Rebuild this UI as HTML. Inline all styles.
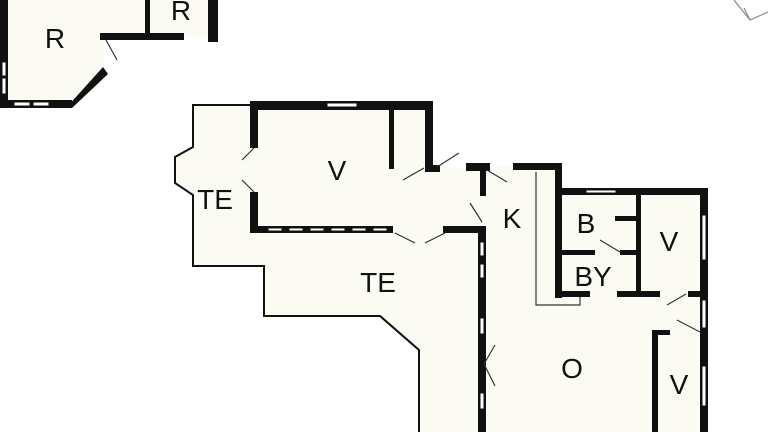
<!DOCTYPE html>
<html><head><meta charset="utf-8"><style>
html,body{margin:0;padding:0;background:#fff;}
svg{display:block}
text{font-family:"Liberation Sans",sans-serif;font-size:28px;fill:#111;text-anchor:middle}
</style></head><body>
<svg width="768" height="432" viewBox="0 0 768 432" xmlns="http://www.w3.org/2000/svg">
<polygon points="4,0 214,0 214,36 104,36 104,70 70,104 4,104" fill="#fbfbf4"/>
<polygon points="193,105 254,105 254,106 433,106 433,168 484,168 484,167 558,167 558,191 704,191 704,432 419,432 419,350 380,316 264,316 264,266 193,266 193,195 175,183 175,157 193,147" fill="#fbfbf4"/>
<polyline points="252,105 193,105 193,147 175,157 175,183 193,195 193,266 264,266 264,316 380,316 419,350 419,432" fill="none" stroke="#111" stroke-width="2"/>
<g fill="#111">
<rect x="0" y="0" width="8" height="108"/>
<rect x="0" y="100" width="72" height="8"/>
<polygon points="66,108 72,108 108,74 103,67"/>
<rect x="100" y="33" width="84" height="7"/>
<rect x="145" y="0" width="5" height="38"/>
<rect x="208" y="0" width="10" height="42"/>
<rect x="250" y="101" width="183" height="9"/>
<rect x="250" y="101" width="8" height="47"/>
<rect x="250" y="192" width="8" height="41"/>
<rect x="250" y="226" width="143" height="7"/>
<rect x="389" y="108" width="5" height="61"/>
<rect x="425" y="101" width="8" height="71"/>
<rect x="425" y="165" width="15" height="7"/>
<rect x="466" y="163" width="24" height="8"/>
<rect x="480" y="163" width="6" height="33"/>
<rect x="443" y="226" width="43" height="7"/>
<rect x="478" y="226" width="8" height="206"/>
<rect x="513" y="163" width="49" height="7"/>
<rect x="555" y="163" width="7" height="135"/>
<rect x="555" y="188" width="153" height="7"/>
<rect x="700" y="188" width="8" height="244"/>
<rect x="556" y="291" width="34" height="6"/>
<rect x="617" y="291" width="43" height="6"/>
<rect x="688" y="291" width="20" height="6"/>
<rect x="636" y="193" width="5" height="104"/>
<rect x="560" y="250" width="35" height="5"/>
<rect x="620" y="250" width="20" height="5"/>
<rect x="615" y="216" width="25" height="5"/>
<rect x="652" y="330" width="6" height="102"/>
<rect x="652" y="330" width="18" height="5"/>
</g>
<g fill="#fff" stroke="#111" stroke-width="1">
<rect x="14" y="102" width="16" height="4"/><rect x="33" y="102" width="16" height="4"/>
<rect x="2" y="62" width="4" height="14"/><rect x="2" y="78" width="4" height="16"/>
<rect x="327" y="103" width="30" height="4"/>
<rect x="268" y="228" width="14" height="3"/><rect x="289" y="228" width="14" height="3"/><rect x="310" y="228" width="14" height="3"/><rect x="331" y="228" width="14" height="3"/><rect x="352" y="228" width="14" height="3"/><rect x="373" y="228" width="14" height="3"/>
<rect x="480" y="242" width="4" height="14"/><rect x="480" y="264" width="4" height="14"/><rect x="480" y="318" width="4" height="16"/><rect x="480" y="393" width="4" height="16"/>
<rect x="586" y="190" width="30" height="3"/>
<rect x="702" y="215" width="4" height="45"/><rect x="702" y="300" width="4" height="28"/><rect x="702" y="366" width="4" height="40"/>
</g>
<g stroke="#333" stroke-width="1.2" fill="none">
<line x1="106" y1="40" x2="117" y2="60"/>
<line x1="254" y1="148" x2="242" y2="160"/><line x1="254" y1="192" x2="242" y2="180"/>
<line x1="403" y1="180" x2="424" y2="168"/><line x1="437" y1="167" x2="459" y2="153"/>
<line x1="487" y1="170" x2="507" y2="182"/>
<line x1="482" y1="222" x2="470" y2="203"/>
<line x1="395" y1="233" x2="415" y2="243"/><line x1="445" y1="233" x2="425" y2="243"/>
<line x1="484" y1="364" x2="495" y2="345"/><line x1="484" y1="364" x2="495" y2="386"/>
<line x1="600" y1="240" x2="620" y2="252"/>
<line x1="667" y1="305" x2="686" y2="294"/>
<line x1="677" y1="320" x2="700" y2="332"/>
<polyline points="536,172 536,305 580,305 580,297"/>
<polyline points="734,0 750,20 768,12" stroke="#888"/>
<line x1="750" y1="20" x2="744" y2="8" stroke="#888"/>
</g>
<text x="55" y="48">R</text>
<text x="181" y="20">R</text>
<text x="337" y="180">V</text>
<text x="215" y="209">TE</text>
<text x="378" y="292">TE</text>
<text x="512" y="228">K</text>
<text x="586" y="233">B</text>
<text x="669" y="251">V</text>
<text x="593" y="286">BY</text>
<text x="572" y="378">O</text>
<text x="679" y="394">V</text>
</svg>
</body></html>
